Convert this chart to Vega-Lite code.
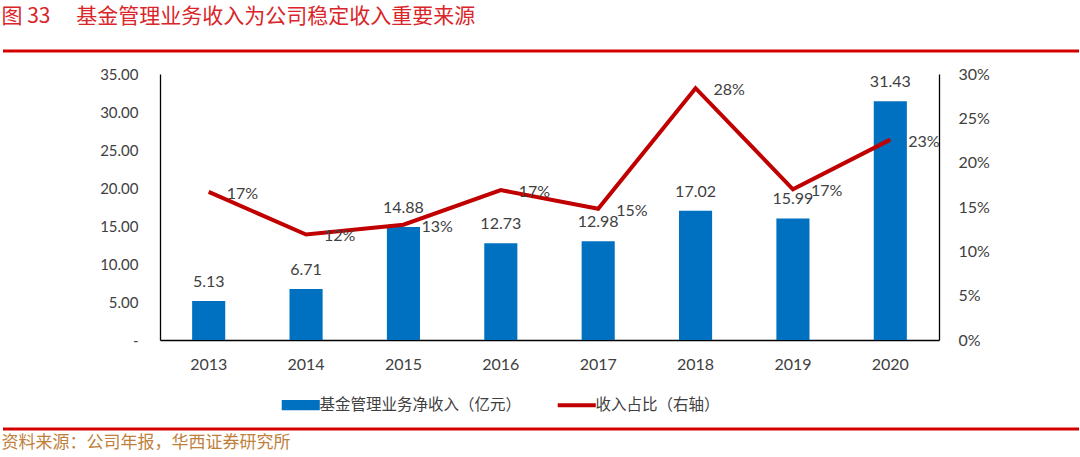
{
  "$schema": "https://vega.github.io/schema/vega-lite/v6.json",
  "padding": {"left": 1, "top": 5, "right": 0, "bottom": 0},
  "background": "white",
  "config": {
    "view": {"stroke": null},
    "font": "Lato",
    "legend": {
      "orient": "none",
      "legendX": 290,
      "legendY": 323,
      "direction": "horizontal",
      "columns": 2,
      "symbolSize": 1450,
      "labelFont": "Noto Sans CJK SC",
      "labelFontSize": 15.5,
      "labelColor": "#404040",
      "labelOffset": 11,
      "labelLimit": 400,
      "columnPadding": 27,
      "title": null
    }
  },
  "datasets": {
    "main": [
      {"year": "2013", "revenue": 5.13, "ratio": 0.167},
      {"year": "2014", "revenue": 6.71, "ratio": 0.119},
      {"year": "2015", "revenue": 14.88, "ratio": 0.130},
      {"year": "2016", "revenue": 12.73, "ratio": 0.169},
      {"year": "2017", "revenue": 12.98, "ratio": 0.148},
      {"year": "2018", "revenue": 17.02, "ratio": 0.284},
      {"year": "2019", "revenue": 15.99, "ratio": 0.170},
      {"year": "2020", "revenue": 31.43, "ratio": 0.226}
    ],
    "decor": [{"part": "rule"}]
  },
  "title": {
    "text": "资料来源：公司年报，华西证券研究所",
    "orient": "bottom",
    "anchor": "start",
    "offset": 4,
    "font": "Noto Sans CJK SC",
    "fontSize": 17,
    "fontWeight": "normal",
    "color": "#C0803C"
  },
  "spacing": 13,
  "resolve": {
    "scale": {"y": "independent", "x": "independent", "color": "independent"},
    "legend": {"color": "independent"},
    "axis": {"x": "independent", "y": "independent"}
  },
  "vconcat": [
    {
      "width": 1076,
      "height": 1,
      "data": {"name": "decor"},
      "title": {
        "text": "图 33　 基金管理业务收入为公司稳定收入重要来源",
        "anchor": "start",
        "orient": "top",
        "offset": 23,
        "font": "Noto Sans CJK SC",
        "fontSize": 21,
        "fontWeight": "normal",
        "color": "#D9262A"
      },
      "mark": {"type": "rule", "color": "#D40000", "strokeWidth": 3},
      "encoding": {"y": {"datum": 0, "type": "quantitative", "axis": null}}
    },
    {
      "width": 1076,
      "height": 266,
      "data": {"name": "main"},
      "encoding": {
        "x": {
          "field": "year",
          "type": "ordinal",
          "scale": {"range": [157, 936], "paddingInner": 0.66, "paddingOuter": 0.33},
          "axis": {
            "title": null,
            "labelAngle": 0,
            "ticks": false,
            "tickSize": 0,
            "labelPadding": 16,
            "labelFont": "Lato",
            "labelFontSize": 16,
            "labelColor": "#404040",
            "domainColor": "#000000",
            "domainWidth": 1.3
          }
        }
      },
      "layer": [
        {
          "encoding": {
            "y": {
              "field": "revenue",
              "type": "quantitative",
              "scale": {"domain": [0, 35], "nice": false},
              "axis": {
                "title": null,
                "offset": -157,
                "values": [0, 5, 10, 15, 20, 25, 30, 35],
                "labelExpr": "datum.value == 0 ? '-\u00a0\u00a0\u00a0' : format(datum.value, '.2f')",
                "ticks": false,
                "tickSize": 0,
                "grid": false,
                "labelPadding": 22,
                "labelFont": "Lato",
                "labelFontSize": 15,
                "labelColor": "#404040",
                "domainColor": "#000000",
                "domainWidth": 1.3
              }
            }
          },
          "layer": [
            {
              "mark": {"type": "bar"},
              "encoding": {
                "color": {
                  "datum": "基金管理业务净收入（亿元）",
                  "scale": {
                    "domain": ["基金管理业务净收入（亿元）", "收入占比（右轴）"],
                    "range": ["#0070C0", "#C00000"]
                  },
                  "legend": {
                    "title": null,
                    "orient": "none",
                    "legendX": 290,
                    "legendY": 323,
                    "encode": {
                      "symbols": {
                        "update": {
                          "shape": {"signal": "datum.value === '收入占比（右轴）' ? 'M-1,0H1' : 'M-1,-0.27H1V0.27H-1Z'"},
                          "fill": {"signal": "datum.value === '收入占比（右轴）' ? 'transparent' : '#0070C0'"},
                          "stroke": {"signal": "datum.value === '收入占比（右轴）' ? '#C00000' : 'transparent'"},
                          "strokeWidth": {"signal": "datum.value === '收入占比（右轴）' ? 4 : 0"},
                          "opacity": {"value": 1}
                        }
                      }
                    }
                  }
                }
              }
            },
            {
              "mark": {"type": "text", "baseline": "bottom", "dy": -11, "font": "Lato", "fontSize": 16, "color": "#404040"},
              "encoding": {"text": {"field": "revenue", "type": "quantitative", "format": ".2f"}}
            }
          ]
        },
        {
          "encoding": {
            "y": {
              "field": "ratio",
              "type": "quantitative",
              "scale": {"domain": [0, 0.3], "nice": false},
              "axis": {
                "orient": "right",
                "title": null,
                "offset": -140,
                "values": [0, 0.05, 0.1, 0.15, 0.2, 0.25, 0.3],
                "format": ".0%",
                "ticks": false,
                "tickSize": 0,
                "grid": false,
                "labelPadding": 19,
                "labelFont": "Lato",
                "labelFontSize": 16,
                "labelColor": "#404040",
                "domainColor": "#000000",
                "domainWidth": 1.3
              }
            }
          },
          "layer": [
            {
              "mark": {"type": "line", "strokeWidth": 4},
              "encoding": {"color": {"datum": "收入占比（右轴）"}}
            },
            {
              "mark": {"type": "text", "align": "left", "baseline": "middle", "dx": 18, "dy": 2, "font": "Lato", "fontSize": 16, "color": "#404040"},
              "encoding": {"text": {"field": "ratio", "type": "quantitative", "format": ".0%"}}
            }
          ]
        }
      ],
      "resolve": {"scale": {"y": "independent"}}
    },
    {
      "width": 1076,
      "height": 1,
      "data": {"name": "decor"},
      "mark": {"type": "rule", "color": "#D40000", "strokeWidth": 3},
      "encoding": {"y": {"datum": 0, "type": "quantitative", "axis": null}}
    }
  ]
}
